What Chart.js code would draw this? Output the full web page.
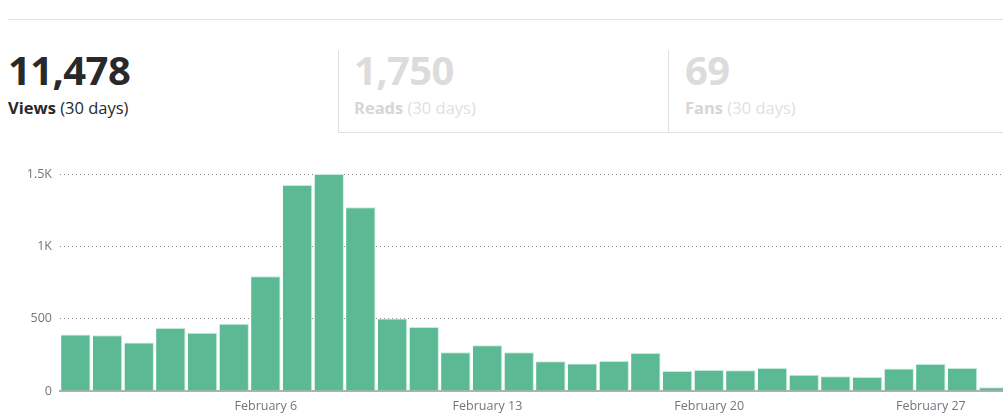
<!DOCTYPE html>
<html>
<head>
<meta charset="utf-8">
<script src="https://cdn.jsdelivr.net/npm/chart.js@4"></script>
<style>
  html, body { margin:0; padding:0; background:#fff; overflow:hidden; width:1003px; height:418px; }
  body { position:relative; font-family:"Open Sans","Noto Sans",sans-serif; }
  .topline { position:absolute; left:8px; top:19px; width:995px; height:1px; background:#e0e0e0; }
  .tab { position:absolute; top:50px; height:83px; box-sizing:border-box; }
  .tab .num { position:absolute; left:0; top:-5px; font-size:40px; font-weight:700; letter-spacing:-0.6px; line-height:50px; white-space:nowrap; }
  .tab .lbl { position:absolute; left:0; top:48px; font-size:16.5px; line-height:20px; white-space:nowrap; }
  .tab .lbl b { font-weight:700; }
  #t1 { left:8px; width:330px; color:#292929; }
  #t2 { left:338px; width:330px; border-left:1px solid #e0e0e0; border-bottom:1px solid #e0e0e0; color:#dcdcdc; }
  #t3 { left:668px; width:335px; border-left:1px solid #e0e0e0; border-bottom:1px solid #e0e0e0; color:#dcdcdc; }
  #t2 .num, #t2 .lbl { left:15px; }
  #t3 .num, #t3 .lbl { left:16px; }
  #t1 .lbl { color:#292929; }
  #t2 .lbl, #t3 .lbl { color:#e0e0e0; }
  #t2 .lbl b, #t3 .lbl b { color:#d6d6d6; }
  #wrap { position:absolute; left:0; top:150px; width:1012px; height:268px; }
</style>
</head>
<body>
<div class="topline"></div>
<div class="tab" id="t1"><div class="num">11,478</div><div class="lbl"><b>Views</b> (30 days)</div></div>
<div class="tab" id="t2"><div class="num">1,750</div><div class="lbl"><b>Reads</b> (30 days)</div></div>
<div class="tab" id="t3"><div class="num">69</div><div class="lbl"><b>Fans</b> (30 days)</div></div>
<div id="wrap"><canvas id="c"></canvas></div>
<script>
const days = ["January 31","February 1","February 2","February 3","February 4","February 5","February 6","February 7","February 8","February 9","February 10","February 11","February 12","February 13","February 14","February 15","February 16","February 17","February 18","February 19","February 20","February 21","February 22","February 23","February 24","February 25","February 26","February 27","February 28","February 29"];
const views = [390,385,335,436,402,464,794,1424,1500,1270,501,443,268,316,268,206,190,208,263,139,145,143,159,113,102,97,155,187,159,26];
const shownLabels = ["February 6","February 13","February 20","February 27"];
const yTicks = [0,500,1000,1500];
const yTickText = ["0","500","1K","1.5K"];

new Chart(document.getElementById('c'), {
  type: 'bar',
  data: {
    labels: days,
    datasets: [{
      data: views,
      backgroundColor: '#5bba94',
      borderColor: '#c4eadb',
      borderWidth: {top:1, right:1, left:0, bottom:0},
      borderSkipped: false,
      barPercentage: 0.93,
      categoryPercentage: 1.0
    }]
  },
  options: {
    responsive: true,
    maintainAspectRatio: false,
    animation: false,
    devicePixelRatio: 1,
    layout: { padding: { top: 24, right: 2, left: 0, bottom: 0 } },
    plugins: { legend: { display:false }, tooltip: { enabled:false } },
    scales: {
      x: {
        grid: { display:false, drawTicks:false },
        border: { display:true, color:'#b0b0b0', width:2 },
        ticks: {
          autoSkip:false, maxRotation:0, padding:8,
          color:'#74747f',
          font:{ family:'"Open Sans","Noto Sans",sans-serif', size:12.5 },
          callback: function(v){ const l = days[v]; return shownLabels.includes(l) ? l : ''; }
        },
        afterFit: function(s){ s.height = 27; }
      },
      y: {
        min: 0, max: 1500,
        afterBuildTicks: function(s){ s.ticks = yTicks.map(v => ({value:v})); },
        grid: {
          color: function(ctx){ return ctx.tick && ctx.tick.value === 0 ? 'rgba(0,0,0,0)' : '#8a8a8a'; },
          drawTicks:false, lineWidth:1
        },
        border: { display:false, dash:[1,3] },
        ticks: {
          padding: 8,
          color:'#74747f',
          font:{ family:'"Open Sans","Noto Sans",sans-serif', size:12.5 },
          callback: function(v){ const i = yTicks.indexOf(v); return i >= 0 ? yTickText[i] : ''; }
        },
        afterFit: function(s){ s.width = 60; }
      }
    }
  }
});
</script>
</body>
</html>
